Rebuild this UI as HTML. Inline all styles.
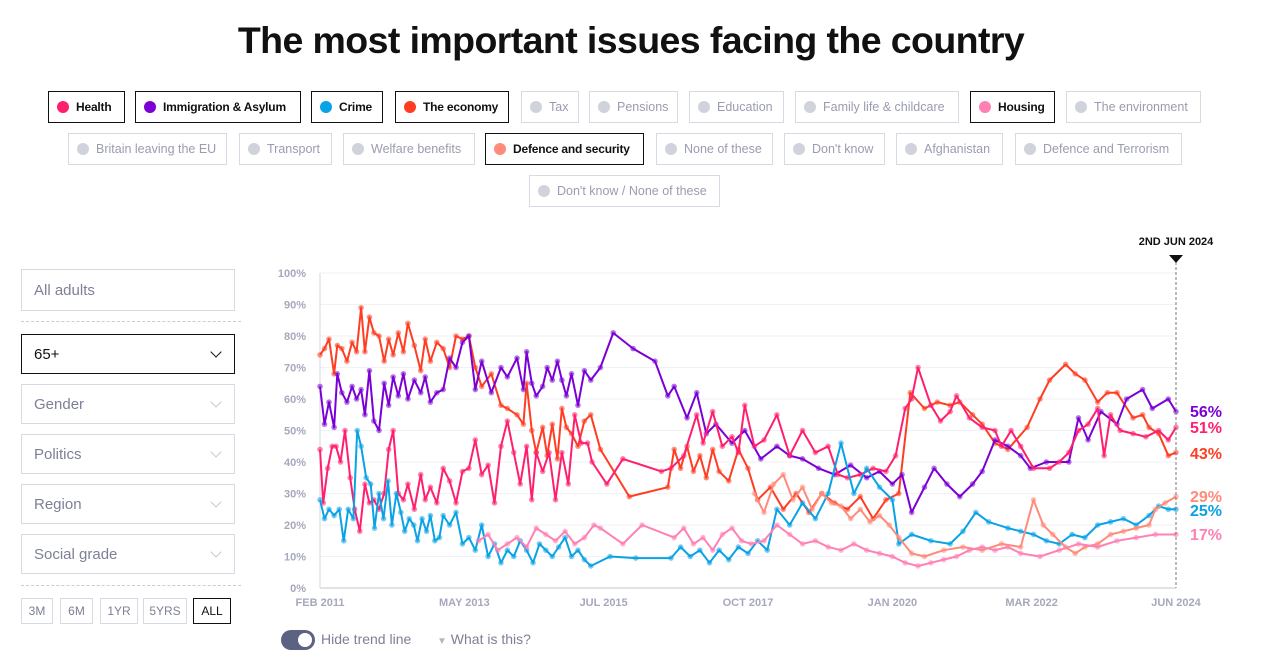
<!DOCTYPE html>
<html><head><meta charset="utf-8">
<style>
body{margin:0;width:1269px;height:671px;background:#fff;font-family:"Liberation Sans",sans-serif;position:relative;overflow:hidden}
h1{position:absolute;left:0;width:1262px;top:19px;margin:0;text-align:center;font-size:37.5px;font-weight:bold;color:#111;letter-spacing:-0.6px}
.b{position:absolute;height:32px;border:1px solid #d8d9e2;box-sizing:border-box;font-size:12.5px;color:#9a9cb0;display:flex;align-items:center;padding-left:8px;white-space:nowrap;overflow:hidden}
.b.on{border:1px solid #111;color:#111;font-weight:bold;font-size:12px;letter-spacing:-0.2px}
.b i{display:inline-block;flex:none;width:12px;height:12px;border-radius:50%;background:#d0d2dc;margin-right:7px}
.f{position:absolute;left:21px;width:214px;height:40px;border:1px solid #d8d9e2;box-sizing:border-box;font-size:15px;color:#7d8096;display:flex;align-items:center;padding-left:12px}
.f .c{position:absolute;right:14px;top:13px;width:7px;height:7px;border-right:1.5px solid #c5c7d3;border-bottom:1.5px solid #c5c7d3;transform:rotate(45deg)}
.t{position:absolute;top:598px;height:26px;border:1px solid #d8d9e2;box-sizing:border-box;font-size:12px;color:#7d8096;display:flex;align-items:center;justify-content:center}
.dash{position:absolute;left:21px;width:220px;border-top:1px dashed #c9cbd6}
</style></head><body>
<h1>The most important issues facing the country</h1>

<div class="b on" style="left:48px;top:91px;width:77px"><i style="background:#ff1f6e"></i>Health</div>
<div class="b on" style="left:135px;top:91px;width:166px"><i style="background:#7b00d6"></i>Immigration &amp; Asylum</div>
<div class="b on" style="left:311px;top:91px;width:72px"><i style="background:#0aa2e6"></i>Crime</div>
<div class="b on" style="left:395px;top:91px;width:114px"><i style="background:#ff3d22"></i>The economy</div>
<div class="b" style="left:521px;top:91px;width:58px"><i></i>Tax</div>
<div class="b" style="left:589px;top:91px;width:89px"><i></i>Pensions</div>
<div class="b" style="left:689px;top:91px;width:95px"><i></i>Education</div>
<div class="b" style="left:795px;top:91px;width:164px"><i></i>Family life &amp; childcare</div>
<div class="b on" style="left:970px;top:91px;width:85px"><i style="background:#ff80b4"></i>Housing</div>
<div class="b" style="left:1066px;top:91px;width:135px"><i></i>The environment</div>
<div class="b" style="left:68px;top:133px;width:159px"><i></i>Britain leaving the EU</div>
<div class="b" style="left:239px;top:133px;width:93px"><i></i>Transport</div>
<div class="b" style="left:343px;top:133px;width:132px"><i></i>Welfare benefits</div>
<div class="b on" style="left:485px;top:133px;width:159px"><i style="background:#ff8b7a"></i>Defence and security</div>
<div class="b" style="left:656px;top:133px;width:117px"><i></i>None of these</div>
<div class="b" style="left:784px;top:133px;width:101px"><i></i>Don't know</div>
<div class="b" style="left:896px;top:133px;width:107px"><i></i>Afghanistan</div>
<div class="b" style="left:1015px;top:133px;width:167px"><i></i>Defence and Terrorism</div>
<div class="b" style="left:529px;top:175px;width:191px"><i></i>Don't know / None of these</div>

<div class="f" style="top:269px;height:42px">All adults</div>
<div class="dash" style="top:321px"></div>
<div class="f" style="top:334px;border:1.5px solid #111;color:#111">65+<span class="c" style="border-color:#111"></span></div>
<div class="f" style="top:384px">Gender<span class="c"></span></div>
<div class="f" style="top:434px">Politics<span class="c"></span></div>
<div class="f" style="top:484px">Region<span class="c"></span></div>
<div class="f" style="top:534px">Social grade<span class="c"></span></div>
<div class="dash" style="top:585px"></div>
<div class="t" style="left:21px;width:32px">3M</div>
<div class="t" style="left:60px;width:33px">6M</div>
<div class="t" style="left:100px;width:38px">1YR</div>
<div class="t" style="left:143px;width:44px">5YRS</div>
<div class="t" style="left:193px;width:38px;border-color:#111;color:#111">ALL</div>

<div style="position:absolute;left:281px;top:630px;width:34px;height:20px;border-radius:10px;background:#5c6282"><div style="position:absolute;right:3px;top:3px;width:14px;height:14px;border-radius:50%;background:#fff"></div></div>
<div style="position:absolute;left:321px;top:631px;font-size:14px;color:#7d8096">Hide trend line</div>
<div style="position:absolute;left:437px;top:631px;font-size:14px;color:#7d8096"><span style="color:#b5b8c8;font-size:10px">▼</span> What is this?</div>

<svg id="chart" width="1269" height="671" style="position:absolute;left:0;top:0"></svg>
<script>
const yTicks=[0,10,20,30,40,50,60,70,80,90,100];
const xTickDates=[2011.08,2013.33,2015.5,2017.75,2020.0,2022.17,2024.42];
const xTickLabels=["FEB 2011","MAY 2013","JUL 2015","OCT 2017","JAN 2020","MAR 2022","JUN 2024"];
const economyDates=[2011.08,2011.15,2011.22,2011.3,2011.35,2011.42,2011.5,2011.58,2011.65,2011.72,2011.78,2011.85,2011.92,2012.0,2012.08,2012.15,2012.22,2012.3,2012.38,2012.45,2012.55,2012.65,2012.72,2012.8,2012.9,2013.0,2013.1,2013.2,2013.3,2013.4,2013.5,2013.6,2013.75,2013.9,2014.0,2014.15,2014.25,2014.3,2014.38,2014.45,2014.55,2014.62,2014.7,2014.78,2014.85,2014.92,2015.0,2015.1,2015.2,2015.3,2015.45,2015.9,2016.5,2016.6,2016.7,2016.8,2016.9,2017.0,2017.1,2017.2,2017.3,2017.45,2017.6,2017.75,2017.9,2018.1,2018.3,2018.5,2018.7,2018.9,2019.1,2019.3,2019.5,2019.7,2019.9,2020.1,2020.28,2020.5,2020.7,2020.9,2021.05,2021.25,2021.4,2021.6,2021.8,2022.1,2022.3,2022.45,2022.7,2022.85,2023.0,2023.2,2023.35,2023.5,2023.75,2023.9,2024.0,2024.15,2024.3,2024.42];
const economyValues=[74,76,79,68,77,76,72,78,75,89,75,86,81,80,72,79,74,81,75,84,77,69,79,72,78,76,70,80,79,80,70,64,68,58,57,55,52,65,50,43,51,42,52,41,57,51,49,45,53,55,44,29,32,44,38,45,37,42,35,44,37,34,44,38,28,32,25,30,24,30,27,25,29,22,28,30,62,57,59,58,59,55,52,46,44,51,60,66,71,68,66,59,62,62,54,55,51,49,42,43];
const immigrationDates=[2011.08,2011.15,2011.22,2011.3,2011.35,2011.42,2011.5,2011.58,2011.65,2011.72,2011.78,2011.85,2011.92,2012.0,2012.08,2012.15,2012.22,2012.3,2012.38,2012.45,2012.55,2012.65,2012.72,2012.8,2012.9,2013.0,2013.1,2013.2,2013.3,2013.4,2013.5,2013.6,2013.75,2013.9,2014.0,2014.15,2014.25,2014.3,2014.38,2014.45,2014.55,2014.62,2014.7,2014.78,2014.85,2014.92,2015.0,2015.1,2015.2,2015.3,2015.45,2015.65,2015.96,2016.3,2016.5,2016.6,2016.8,2016.95,2017.1,2017.25,2017.5,2017.7,2017.95,2018.2,2018.4,2018.6,2018.85,2019.1,2019.35,2019.6,2019.8,2020.0,2020.15,2020.3,2020.5,2020.65,2020.85,2021.05,2021.25,2021.4,2021.6,2021.8,2022.0,2022.15,2022.4,2022.75,2022.9,2023.05,2023.25,2023.5,2023.65,2023.9,2024.05,2024.3,2024.42];
const immigrationValues=[64,52,59,51,68,62,59,64,60,63,55,69,53,50,65,58,67,61,68,60,66,62,67,59,62,63,73,70,78,80,63,72,62,70,67,73,63,75,65,61,64,70,66,72,66,61,68,58,69,66,70,81,76,72,61,64,54,62,49,52,46,50,41,45,42,41,38,36,39,35,37,33,36,24,32,38,33,29,33,37,47,45,42,38,40,40,54,47,56,52,60,63,57,60,56];
const healthDates=[2011.08,2011.13,2011.2,2011.27,2011.33,2011.4,2011.47,2011.55,2011.62,2011.7,2011.78,2011.85,2011.92,2012.0,2012.08,2012.15,2012.22,2012.3,2012.38,2012.45,2012.55,2012.65,2012.72,2012.8,2012.9,2013.0,2013.1,2013.2,2013.3,2013.4,2013.5,2013.6,2013.7,2013.8,2013.9,2014.0,2014.1,2014.2,2014.3,2014.38,2014.45,2014.55,2014.65,2014.75,2014.85,2014.95,2015.05,2015.15,2015.25,2015.32,2015.55,2015.8,2016.4,2016.55,2016.75,2016.95,2017.05,2017.2,2017.35,2017.5,2017.6,2017.7,2017.85,2018.0,2018.2,2018.4,2018.6,2018.8,2019.0,2019.15,2019.3,2019.5,2019.7,2019.9,2020.05,2020.2,2020.3,2020.4,2020.6,2020.75,2020.9,2021.0,2021.2,2021.4,2021.6,2021.7,2021.85,2022.0,2022.2,2022.45,2022.6,2022.75,2022.9,2023.05,2023.2,2023.3,2023.4,2023.55,2023.75,2023.95,2024.15,2024.3,2024.42];
const healthValues=[44,27,38,45,45,40,50,35,25,18,33,27,28,25,30,44,50,30,28,33,25,36,28,32,27,38,34,27,37,38,47,36,39,27,45,53,43,33,45,28,43,37,43,28,43,33,55,46,46,40,33,41,37,38,42,55,46,56,45,48,43,58,45,47,55,42,50,43,45,36,35,36,38,37,42,57,60,70,58,53,56,61,54,51,50,45,50,45,38,38,40,43,50,52,57,42,55,50,49,48,50,47,51];
const crimeDates=[2011.08,2011.15,2011.22,2011.3,2011.38,2011.45,2011.52,2011.6,2011.66,2011.72,2011.8,2011.87,2011.93,2012.0,2012.07,2012.14,2012.2,2012.27,2012.34,2012.4,2012.47,2012.54,2012.6,2012.67,2012.74,2012.8,2012.87,2012.94,2013.0,2013.1,2013.2,2013.3,2013.4,2013.5,2013.6,2013.7,2013.8,2013.9,2014.0,2014.1,2014.2,2014.3,2014.4,2014.5,2014.6,2014.7,2014.8,2014.9,2015.0,2015.1,2015.2,2015.3,2015.6,2016.0,2016.55,2016.7,2016.85,2017.0,2017.15,2017.3,2017.45,2017.6,2017.75,2017.9,2018.05,2018.2,2018.4,2018.6,2018.8,2019.0,2019.2,2019.4,2019.6,2019.8,2020.0,2020.1,2020.3,2020.6,2020.9,2021.1,2021.3,2021.5,2021.8,2022.0,2022.2,2022.4,2022.6,2022.8,2023.0,2023.2,2023.4,2023.6,2023.8,2024.0,2024.15,2024.3,2024.42];
const crimeValues=[28,22,25,23,25,15,25,22,50,45,35,33,19,30,22,34,20,30,24,18,22,20,15,22,18,23,15,16,23,20,24,14,16,12,20,10,14,8,12,10,15,12,8,14,12,10,13,16,10,12,9,7,10,9.5,9.5,13,10,12,8,12,9,13,11,15,12,25,20,27,22,30,46,30,38,32,28,14,17,15,14,18,24,21,19,18,17,15,14,17,16,20,21,22,20,23,26,25,25];
const defenceDates=[2017.85,2018.0,2018.15,2018.3,2018.45,2018.6,2018.75,2018.9,2019.05,2019.2,2019.35,2019.5,2019.65,2019.8,2019.95,2020.1,2020.3,2020.5,2020.8,2021.1,2021.4,2021.7,2022.0,2022.2,2022.35,2022.5,2022.7,2022.85,2023.0,2023.2,2023.4,2023.6,2023.8,2024.0,2024.1,2024.25,2024.42];
const defenceValues=[30,24,33,36,28,32,25,30,27,26,22,25,21,23,20,16,11,10,12,13,12,14,13,28,20,17,13,11,13,14,17,18,19,20,25,27,29];
const housingDates=[2013.55,2013.7,2013.85,2014.0,2014.15,2014.3,2014.45,2014.6,2014.75,2014.9,2015.05,2015.2,2015.35,2015.45,2015.8,2016.1,2016.6,2016.75,2016.9,2017.05,2017.2,2017.35,2017.5,2017.65,2017.8,2018.0,2018.2,2018.4,2018.6,2018.8,2019.0,2019.2,2019.4,2019.6,2019.8,2020.0,2020.2,2020.4,2020.6,2020.8,2021.0,2021.2,2021.4,2021.6,2021.8,2022.0,2022.3,2022.6,2022.9,2023.2,2023.5,2023.8,2024.1,2024.42];
const housingValues=[15,17,12,14,16,13,19,17,15,18,14,16,20,19,14,20,16,19,14,16,12,17,19,15,14,15,20,17,14,15,13,12,14,12,11,10,8,7,8,9,10,12,13,12,13,11,10,12,14,13,15,16,17,17];
const seriesNames=["economy","immigration","health","crime","defence","housing"];
const seriesColors=["#ff3d22","#7b00d6","#ff1f6e","#0aa2e6","#ff8b7a","#ff80b4"];
const seriesDates=[economyDates,immigrationDates,healthDates,crimeDates,defenceDates,housingDates];
const seriesValues=[economyValues,immigrationValues,healthValues,crimeValues,defenceValues,housingValues];
const endLabels=["43%","56%","51%","25%","29%","17%"];
const endLabelTops=[453,411,427,510,496,534];

const NS="http://www.w3.org/2000/svg";
const svg=document.getElementById('chart');
const X0=320,X1=1176,Y0=588,Y1=273,D0=2011.08,D1=2024.42;
function xs(d){return X0+(d-D0)/(D1-D0)*(X1-X0);}
function ys(v){return Y0-v/100*(Y0-Y1);}
function mk(t,a){const e=document.createElementNS(NS,t);for(const k in a)e.setAttribute(k,a[k]);svg.appendChild(e);return e;}
yTicks.forEach(v=>{
  const l=mk('line',{x1:X0,x2:X1,y1:ys(v),y2:ys(v),stroke:v==0?'#c2c5d2':'#f1f2f6','stroke-width':1});
  
  
  const t=mk('text',{x:306,y:ys(v)+4,'text-anchor':'end','font-size':11,'font-weight':'bold',fill:'#a6a8bc','font-family':'Liberation Sans, sans-serif'});
  t.textContent=v+'%';
  
  
});
const ax=mk('line',{x1:X0,x2:X0,y1:Y1,y2:Y0,stroke:'#d5d7e0'});


xTickDates.forEach((d,i)=>{
  const t=mk('text',{x:xs(d),y:606,'text-anchor':'middle','font-size':11,'font-weight':'bold',fill:'#a6a8bc','font-family':'Liberation Sans, sans-serif'});
  t.textContent=xTickLabels[i];
  
  
});
seriesNames.forEach((n,s)=>{
  const ds=seriesDates[s],vs=seriesValues[s];
  ds.forEach((d,i)=>{
    const c=mk('circle',{cx:xs(d),cy:ys(vs[i]),r:2.8,fill:seriesColors[s],opacity:0.55});
    
    
  });
  const p=mk('polyline',{points:ds.map((d,i)=>xs(d).toFixed(1)+','+ys(vs[i]).toFixed(1)).join(' '),fill:'none',stroke:seriesColors[s],'stroke-width':2,'stroke-linejoin':'round'});
  
  
  const t=mk('text',{x:1190,y:endLabelTops[s]+6,'font-size':16,'font-weight':'bold',fill:seriesColors[s],'font-family':'Liberation Sans, sans-serif'});
  t.textContent=endLabels[s];
  
  
});
const dl=mk('line',{x1:X1,x2:X1,y1:262,y2:Y0,stroke:'#777','stroke-dasharray':'3,2'});


const tri=mk('polygon',{points:(X1-7)+',255 '+(X1+7)+',255 '+X1+',263',fill:'#111'});


const dt=mk('text',{x:X1,y:245,'text-anchor':'middle','font-size':11,'font-weight':'bold',fill:'#111','font-family':'Liberation Sans, sans-serif'});
dt.textContent='2ND JUN 2024';


</script>
</body></html>
